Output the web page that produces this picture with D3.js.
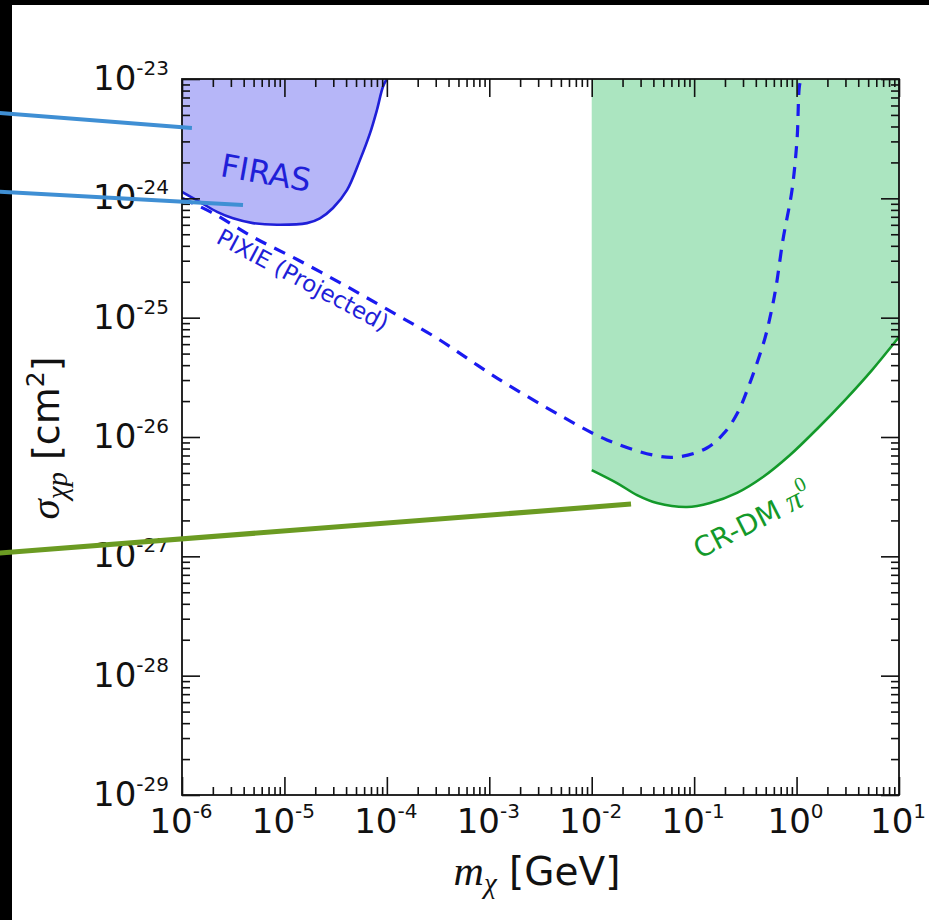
<!DOCTYPE html>
<html>
<head>
<meta charset="utf-8">
<script src="https://cdn.jsdelivr.net/npm/d3@7"></script>
<style>
  html, body { margin: 0; padding: 0; background: #ffffff; }
  svg { display: block; }
</style>
</head>
<body>
<div id="chart"></div>
<script>
// Axis ranges and tick exponents
const massDomain = [1e-6, 10];
const sigmaDomain = [1e-29, 1e-23];
const massTickExponents = [-6, -5, -4, -3, -2, -1, 0, 1];
const sigmaTickExponents = [-29, -28, -27, -26, -25, -24, -23];

// FIRAS excluded region: lower boundary (GeV, cm^2)
const firasMass  = [1.0e-6, 1.5e-6, 2.2e-6, 3.15e-6, 4.93e-6, 8.45e-6, 1.66e-5, 2.22e-5, 2.98e-5, 4.08e-5, 5.47e-5, 6.84e-5, 8.0e-5, 9.16e-5, 1.0e-4];
const firasSigma = [1.13e-24, 9.3e-25, 7.7e-25, 6.8e-25, 6.2e-25, 6.0e-25, 6.2e-25, 6.8e-25, 8.3e-25, 1.17e-24, 2.1e-24, 3.5e-24, 5.5e-24, 8.6e-24, 1.0e-23];

// PIXIE projected sensitivity
const pixieMass  = [1.0e-6, 1.92e-6, 4.93e-6, 1.36e-5, 3.82e-5, 1.03e-4, 2.95e-4, 1.19e-3, 5.24e-3, 1.41e-2, 3.96e-2, 6.8e-2, 0.133, 0.200, 0.268, 0.336, 0.411, 0.492, 0.562, 0.630, 0.736, 0.902, 1.01, 1.08, 1.13];
const pixieSigma = [1.0e-24, 7.67e-25, 4.74e-25, 3.04e-25, 1.88e-25, 1.16e-25, 6.89e-26, 3.12e-26, 1.47e-26, 9.45e-27, 7.06e-27, 6.79e-27, 8.09e-27, 1.10e-26, 1.62e-26, 2.58e-26, 4.17e-26, 6.76e-26, 1.09e-25, 1.81e-25, 4.48e-25, 1.17e-24, 3.08e-24, 9.25e-24, 1.0e-23];

// Cosmic-ray upscattered DM (pi0) excluded region: lower boundary
const crdmMass  = [0.01, 0.01766, 0.0277, 0.0434, 0.0851, 0.143, 0.262, 0.470, 0.863, 1.62, 2.97, 5.45, 10];
const crdmSigma = [5.28e-27, 4.11e-27, 3.26e-27, 2.80e-27, 2.59e-27, 2.80e-27, 3.40e-27, 4.62e-27, 7.06e-27, 1.19e-26, 2.04e-26, 3.64e-26, 6.89e-26];

// Pointer strokes laid over the figure: [mass, sigma] start and end
const pointerNames = ["upperBlue", "lowerBlue", "green"];
const pointerStart = [[1.5e-8, 5.22e-24], [1.5e-8, 1.14e-24], [1.5e-8, 1.06e-27]];
const pointerEnd   = [[1.25e-6, 3.88e-24], [3.94e-6, 8.79e-25], [2.42e-2, 2.74e-27]];

const W = 929, H = 920;
const plot = { left: 182, right: 899, top: 79, bottom: 795 };

const svg = d3.select("#chart").append("svg")
  .attr("width", W).attr("height", H);

svg.append("rect").attr("width", W).attr("height", H).attr("fill", "#ffffff");

const x = d3.scaleLog().domain(massDomain).range([plot.left, plot.right]);
const y = d3.scaleLog().domain(sigmaDomain).range([plot.bottom, plot.top]);

svg.append("defs").append("clipPath").attr("id", "plotClip")
  .append("rect")
  .attr("x", plot.left).attr("y", plot.top)
  .attr("width", plot.right - plot.left).attr("height", plot.bottom - plot.top);

const gPlot = svg.append("g").attr("clip-path", "url(#plotClip)");

const curve = d3.curveCatmullRom.alpha(0.5);

// CR-DM region
const crdm = crdmMass.map((m, i) => [m, crdmSigma[i]]);
gPlot.append("path")
  .datum(crdm)
  .attr("fill", "#abe5c0")
  .attr("d", d3.area().curve(curve)
    .x(d => x(d[0])).y1(d => y(d[1])).y0(y(sigmaDomain[1])));
gPlot.append("path")
  .datum(crdm)
  .attr("fill", "none")
  .attr("stroke", "#13992a")
  .attr("stroke-width", 2.6)
  .attr("d", d3.line().curve(curve).x(d => x(d[0])).y(d => y(d[1])));

// FIRAS region
const firas = firasMass.map((m, i) => [m, firasSigma[i]]);
gPlot.append("path")
  .datum(firas)
  .attr("fill", "#b6b6f8")
  .attr("d", d3.area().curve(curve)
    .x(d => x(d[0])).y1(d => y(d[1])).y0(y(sigmaDomain[1])));
gPlot.append("path")
  .datum(firas)
  .attr("fill", "none")
  .attr("stroke", "#1f1fd8")
  .attr("stroke-width", 2.6)
  .attr("d", d3.line().curve(curve).x(d => x(d[0])).y(d => y(d[1])));

// PIXIE projection
const pixie = pixieMass.map((m, i) => [m, pixieSigma[i]]);
gPlot.append("path")
  .datum(pixie)
  .attr("fill", "none")
  .attr("stroke", "#1a1af0")
  .attr("stroke-width", 3.2)
  .attr("stroke-dasharray", "12,9")
  .attr("d", d3.line().curve(curve).x(d => x(d[0])).y(d => y(d[1])));

// Curve labels
const sans = "'DejaVu Sans', sans-serif";
const serif = "'Liberation Serif', 'DejaVu Serif', serif";

svg.append("text")
  .attr("transform", "translate(264,184) rotate(10)")
  .attr("text-anchor", "middle")
  .attr("font-family", sans).attr("font-size", 32)
  .attr("fill", "#1f1fd8")
  .text("FIRAS");

svg.append("text")
  .attr("transform", "translate(299,287) rotate(28)")
  .attr("text-anchor", "middle")
  .attr("font-family", sans).attr("font-size", 23)
  .attr("fill", "#1f1fd8")
  .text("PIXIE (Projected)");

const crLabel = svg.append("text")
  .attr("transform", "translate(757,530) rotate(-27)")
  .attr("text-anchor", "middle")
  .attr("font-family", sans).attr("font-size", 28)
  .attr("fill", "#13992a");
crLabel.append("tspan").text("CR-DM ");
crLabel.append("tspan").attr("font-family", serif).attr("font-style", "italic").attr("font-size", 31).text("π");
crLabel.append("tspan").attr("font-family", serif).attr("font-size", 21).attr("dy", -14).text("0");

// Frame
svg.append("rect")
  .attr("x", plot.left).attr("y", plot.top)
  .attr("width", plot.right - plot.left).attr("height", plot.bottom - plot.top)
  .attr("fill", "none").attr("stroke", "#111").attr("stroke-width", 1.8);

// Ticks (inward, all four sides)
const majorLen = 18, minorLen = 8;
function minorValues(domain) {
  const lo = Math.round(Math.log10(domain[0])), hi = Math.round(Math.log10(domain[1]));
  const vals = [];
  for (let e = lo; e < hi; e++) for (let k = 2; k <= 9; k++) vals.push(k * Math.pow(10, e));
  return vals;
}
const massMajor = massTickExponents.map(e => Math.pow(10, e));
const sigmaMajor = sigmaTickExponents.map(e => Math.pow(10, e));
const massMinor = minorValues(massDomain);
const sigmaMinor = minorValues(sigmaDomain);

function drawAxis(axisFn, scale, values, len, tx, ty) {
  const g = svg.append("g").attr("transform", `translate(${tx},${ty})`)
    .call(axisFn(scale).tickValues(values).tickSize(len).tickFormat(""));
  g.select(".domain").remove();
  g.selectAll(".tick line").attr("stroke", "#111").attr("stroke-width", 1.6);
  return g;
}
// bottom & top
drawAxis(d3.axisTop, x, massMajor, majorLen, 0, plot.bottom);
drawAxis(d3.axisTop, x, massMinor, minorLen, 0, plot.bottom);
drawAxis(d3.axisBottom, x, massMajor, majorLen, 0, plot.top);
drawAxis(d3.axisBottom, x, massMinor, minorLen, 0, plot.top);
// left & right
drawAxis(d3.axisRight, y, sigmaMajor, majorLen, plot.left, 0);
drawAxis(d3.axisRight, y, sigmaMinor, minorLen, plot.left, 0);
drawAxis(d3.axisLeft, y, sigmaMajor, majorLen, plot.right, 0);
drawAxis(d3.axisLeft, y, sigmaMinor, minorLen, plot.right, 0);

// Tick labels 10^n
function powerLabel(sel, e) {
  sel.append("tspan").text("10");
  sel.append("tspan").attr("font-size", 20).attr("dy", -15).text(String(e));
}
massTickExponents.forEach(e => {
  const t = svg.append("text")
    .attr("x", x(Math.pow(10, e)) - 1).attr("y", 833)
    .attr("text-anchor", "middle")
    .attr("font-family", sans).attr("font-size", 34).attr("fill", "#111");
  powerLabel(t, e);
});
sigmaTickExponents.forEach(e => {
  const t = svg.append("text")
    .attr("x", 169).attr("y", y(Math.pow(10, e)) + 11)
    .attr("text-anchor", "end")
    .attr("font-family", sans).attr("font-size", 34).attr("fill", "#111");
  powerLabel(t, e);
});

// Axis titles
const xt = svg.append("text")
  .attr("x", 537).attr("y", 885)
  .attr("text-anchor", "middle")
  .attr("font-family", sans).attr("font-size", 39).attr("fill", "#111");
xt.append("tspan").attr("font-family", serif).attr("font-style", "italic").attr("font-size", 42).text("m");
xt.append("tspan").attr("font-family", serif).attr("font-style", "italic").attr("font-size", 29).attr("dy", 8).text("χ");
xt.append("tspan").attr("dy", -8).text(" [GeV]");

const yt = svg.append("text")
  .attr("transform", "translate(59,438) rotate(-90)")
  .attr("text-anchor", "middle")
  .attr("font-family", sans).attr("font-size", 38).attr("fill", "#111");
yt.append("tspan").attr("font-family", serif).attr("font-style", "italic").attr("font-size", 41).text("σ");
yt.append("tspan").attr("font-family", serif).attr("font-style", "italic").attr("font-size", 29).attr("dy", 8).text("χp");
yt.append("tspan").attr("dy", -8).text(" [cm");
yt.append("tspan").attr("font-size", 25).attr("dy", -15).text("2");
yt.append("tspan").attr("dy", 15).text("]");

// Dark bands along the top and left edges
svg.append("rect").attr("x", 0).attr("y", 0).attr("width", W).attr("height", 5).attr("fill", "#000");
svg.append("rect").attr("x", 0).attr("y", 0).attr("width", 12).attr("height", H).attr("fill", "#000");

// Pointer strokes
const pointerColors = { upperBlue: "#3f8fd4", lowerBlue: "#3f8fd4", green: "#6b9b22" };
const pointerWidths = { upperBlue: 4, lowerBlue: 4, green: 5 };
pointerNames.forEach((name, i) => {
  svg.append("line")
    .attr("x1", x(pointerStart[i][0])).attr("y1", y(pointerStart[i][1]))
    .attr("x2", x(pointerEnd[i][0])).attr("y2", y(pointerEnd[i][1]))
    .attr("stroke", pointerColors[name])
    .attr("stroke-width", pointerWidths[name]);
});
</script>
</body>
</html>
